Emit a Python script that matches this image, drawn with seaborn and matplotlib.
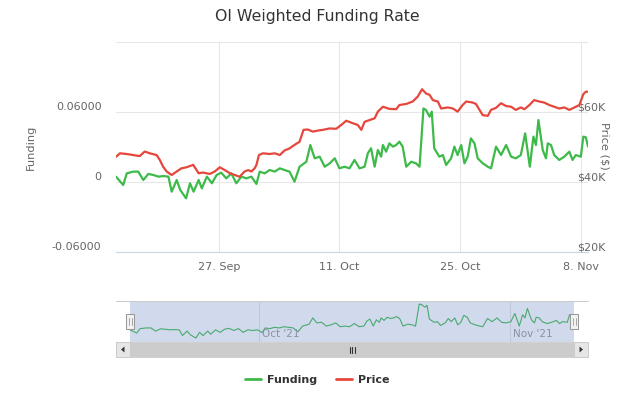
import pandas as pd
import matplotlib
matplotlib.use("Agg")
import matplotlib.pyplot as plt
import matplotlib.transforms as mtransforms
from matplotlib.lines import Line2D
from matplotlib.patches import Rectangle, Polygon
import seaborn as sns

# Series: hours since 15 Sep 2021 00:00 and values
start = pd.Timestamp("2021-09-15 00:00")

funding_hours = [2, 22, 32, 50, 64, 78, 92, 106, 120, 134,
                 148, 157, 171, 181, 197, 208, 218, 232, 241, 255,
                 269, 282, 295, 309, 323, 337, 351, 365, 379, 393,
                 402, 416, 430, 444, 458, 471, 485, 499, 513, 532,
                 543, 555, 569, 583, 597, 611, 624, 638, 652, 666,
                 680, 694, 703, 712, 722, 731, 740, 745, 754, 763,
                 773, 782, 791, 800, 810, 824, 837, 847, 858, 865,
                 875, 881, 888, 902, 912, 921, 935, 944, 953, 963,
                 972, 981, 990, 1000, 1009, 1023, 1037, 1046, 1060, 1074,
                 1088, 1102, 1115, 1129, 1141, 1154, 1164, 1171, 1178, 1190,
                 1199, 1204, 1213, 1222, 1236, 1250, 1264, 1273, 1282, 1296,
                 1303, 1310, 1316]
funding_rate = [0.0046, -0.0026, 0.0074, 0.0089, 0.0089, 0.0017, 0.0069, 0.0060, 0.0046, 0.0051,
                0.0046, -0.0083, 0.0017, -0.0069, -0.0140, -0.0011, -0.0083, 0.0017, -0.0054, 0.0046,
                -0.0011, 0.0060, 0.0080, 0.0031, 0.0074, -0.0011, 0.0046, 0.0031, 0.0046, -0.0017,
                0.0089, 0.0074, 0.0103, 0.0089, 0.0117, 0.0103, 0.0089, 0.0003, 0.0131, 0.0174,
                0.0317, 0.0203, 0.0217, 0.0131, 0.0160, 0.0203, 0.0117, 0.0131, 0.0117, 0.0189,
                0.0117, 0.0131, 0.0246, 0.0289, 0.0131, 0.0274, 0.0217, 0.0317, 0.0260, 0.0331,
                0.0303, 0.0317, 0.0346, 0.0303, 0.0131, 0.0174, 0.0160, 0.0131, 0.0631, 0.0617,
                0.0560, 0.0603, 0.0289, 0.0217, 0.0231, 0.0146, 0.0203, 0.0303, 0.0231, 0.0317,
                0.0160, 0.0217, 0.0374, 0.0331, 0.0203, 0.0160, 0.0131, 0.0117, 0.0303, 0.0231,
                0.0317, 0.0217, 0.0203, 0.0231, 0.0417, 0.0131, 0.0389, 0.0317, 0.0531, 0.0274,
                0.0203, 0.0331, 0.0317, 0.0231, 0.0189, 0.0217, 0.0260, 0.0189, 0.0231, 0.0217,
                0.0389, 0.0383, 0.0303]

price_hours = [2, 13, 32, 50, 68, 82, 96, 115, 124, 133,
               143, 157, 171, 184, 198, 217, 232, 244, 263, 277,
               291, 305, 319, 333, 346, 360, 370, 379, 388, 393,
               400, 411, 430, 444, 458, 471, 485, 499, 513, 524,
               536, 550, 564, 578, 597, 615, 629, 643, 661, 675,
               685, 694, 708, 722, 731, 745, 763, 782, 791, 810,
               828, 842, 854, 865, 875, 884, 898, 907, 926, 940,
               953, 967, 977, 995, 1004, 1014, 1023, 1037, 1046, 1060,
               1074, 1088, 1102, 1115, 1129, 1139, 1153, 1166, 1180, 1194,
               1208, 1222, 1236, 1250, 1264, 1278, 1292, 1303, 1310, 1316]
price_usd = [47200, 48200, 48000, 47700, 47400, 48700, 48200, 47700, 46300, 44400,
             43000, 42000, 43000, 43900, 44200, 44900, 42500, 42700, 42300, 43000,
             44200, 43400, 42500, 42000, 41500, 43000, 43400, 43000, 43900, 44900,
             47700, 48200, 48000, 48200, 47700, 49000, 49600, 50600, 51500, 54900,
             55000, 54400, 54700, 54900, 55300, 55200, 56300, 57500, 56800, 56300,
             54900, 57200, 57700, 58200, 60100, 61500, 60900, 60800, 62000, 62300,
             63000, 64400, 66500, 65300, 64900, 63400, 63000, 61000, 61300, 61000,
             60100, 62000, 63000, 62700, 62300, 60600, 59100, 58900, 60600, 61200,
             62500, 61700, 61500, 60600, 61300, 60800, 62000, 63400, 63000, 62700,
             62000, 61500, 61000, 61300, 60600, 61300, 62000, 65100, 65800, 65800]

tick_dates = ["2021-09-27", "2021-10-11", "2021-10-25", "2021-11-08"]
tick_labels = ["27. Sep", "11. Oct", "25. Oct", "8. Nov"]
funding_ticks = [-0.06, 0, 0.06, 0.12]
funding_tick_labels = ["-0.06000", "0", "0.06000", ""]
price_ticks = [20000, 40000, 60000, 80000]
price_tick_labels = ["$20K", "$40K", "$60K", ""]
nav_dates = ["2021-10-01", "2021-11-01"]
nav_labels = ["Oct '21", "Nov '21"]

funding_df = pd.DataFrame({"time": start + pd.to_timedelta(funding_hours, unit="h"),
                           "Funding": funding_rate})
price_df = pd.DataFrame({"time": start + pd.to_timedelta(price_hours, unit="h"),
                         "Price": price_usd})

GREEN = "#3dba4a"
RED = "#e5473c"
GRID = "#e6e6e6"
LABEL = "#666666"

sns.set_style("white")
plt.rcParams["font.family"] = ["DejaVu Sans"]

W, H = 628, 394
fig = plt.figure(figsize=(W / 100, H / 100), dpi=100)


def box(l, t, r, b):
    # pixel box -> figure fraction rect
    return [l / W, 1 - b / H, (r - l) / W, (b - t) / H]


# main chart
ax = fig.add_axes(box(116, 42, 588, 252))
ax2 = ax.twinx()
sns.lineplot(data=funding_df, x="time", y="Funding", ax=ax, color=GREEN, lw=1.6, legend=False)
sns.lineplot(data=price_df, x="time", y="Price", ax=ax2, color=RED, lw=1.6, legend=False)

t0, t1 = funding_df["time"].iloc[0], funding_df["time"].iloc[-1]
ax.set_xlim(t0, t1)
ax.set_ylim(-0.06, 0.12)
ax2.set_ylim(20000, 80000)
ax.set_xticks(pd.to_datetime(tick_dates), labels=tick_labels)
ax.set_yticks(funding_ticks, labels=funding_tick_labels)
ax2.set_yticks(price_ticks, labels=price_tick_labels)
for a in (ax, ax2):
    a.set_xlabel("")
    a.set_ylabel("")
    for s in a.spines.values():
        s.set_visible(False)
ax.spines["bottom"].set_visible(True)
ax.spines["bottom"].set_color("#ccd6eb")
ax.spines["bottom"].set_linewidth(0.8)
ax.grid(True, color=GRID, lw=0.75)
ax2.grid(False)

ax.tick_params(axis="y", length=0, pad=10.5, labelcolor=LABEL, labelsize=8)
ax.tick_params(axis="x", length=6, width=0.75, color="#ccd6eb", pad=1.5, labelcolor=LABEL, labelsize=8)
ax2.tick_params(axis="y", length=0, pad=-8, labelcolor=LABEL, labelsize=8)

shift = mtransforms.ScaledTranslation(0, 6 / 100, fig.dpi_scale_trans)
for lbl in ax.get_yticklabels() + ax2.get_yticklabels():
    lbl.set_transform(lbl.get_transform() + shift)

fig.text(317 / W, 1 - 17 / H, "OI Weighted Funding Rate", ha="center", va="center",
         fontsize=11.3, color="#333333")
fig.text(31 / W, 1 - 147 / H, "Funding", rotation=90, ha="center", va="center",
         fontsize=8.2, color=LABEL)
fig.text(604 / W, 1 - 146 / H, "Price ($)", rotation=270, ha="center", va="center",
         fontsize=8.2, color=LABEL)

# navigator
nav = fig.add_axes(box(116, 301, 588, 342))
pad = pd.Timedelta(hours=41.4)
sns.lineplot(data=funding_df, x="time", y="Funding", ax=nav, color=GREEN, lw=0.8, legend=False)
nav.set_xlim(t0 - pad, t1 + pad)
nav.set_ylim(-0.023, 0.070)
nav.axvspan(t0, t1, color=(102 / 255, 133 / 255, 194 / 255, 0.3), lw=0, zorder=4)
nav_trans = mtransforms.blended_transform_factory(nav.transData, nav.transAxes)
for d, lab in zip(nav_dates, nav_labels):
    nav.axvline(pd.Timestamp(d), color=GRID, lw=0.75, zorder=1)
    nav.text(pd.Timestamp(d), 0.2, lab, transform=nav_trans + mtransforms.ScaledTranslation(3 / 100, 0, fig.dpi_scale_trans),
             ha="left", va="center", fontsize=7.5, color="#999999", zorder=2)
nav.axis("off")

# scrollbar, handles and outline in pixel space
ui = fig.add_axes([0, 0, 1, 1])
ui.set_xlim(0, W)
ui.set_ylim(H, 0)
ui.axis("off")
ui.plot([116, 588], [301, 301], color="#cccccc", lw=0.75)
ui.add_patch(Rectangle((116, 342), 472, 15, fc="#f2f2f2", ec="#f2f2f2", lw=0.5))
ui.add_patch(Rectangle((130, 342), 444, 15, fc="#cccccc", ec="#cccccc", lw=0.5))
for bx in (116, 574):
    ui.add_patch(Rectangle((bx, 342), 14, 15, fc="#e6e6e6", ec="#cccccc", lw=0.75))
ui.add_patch(Polygon([(121, 349.5), (124.5, 346.5), (124.5, 352.5)], fc="#333333", ec="none"))
ui.add_patch(Polygon([(583, 349.5), (579.5, 346.5), (579.5, 352.5)], fc="#333333", ec="none"))
for gx in (349.5, 352, 354.5):
    ui.plot([gx, gx], [346.5, 352.5], color="#333333", lw=0.8)
for cx in (130, 574):
    ui.add_patch(Rectangle((cx - 4, 314), 8, 15, fc="#f2f2f2", ec="#999999", lw=0.75, zorder=5))
    for gx in (cx - 1.5, cx + 1.5):
        ui.plot([gx, gx], [318, 325], color="#999999", lw=0.6, zorder=6)

# legend
handles = [Line2D([], [], color=GREEN, lw=2), Line2D([], [], color=RED, lw=2)]
fig.legend(handles, ["Funding", "Price"], loc="center", bbox_to_anchor=(317 / W, 1 - 380 / H),
           ncol=2, frameon=False, prop={"weight": "bold", "size": 8}, labelcolor="#333333",
           handlelength=1.45, handletextpad=0.55, columnspacing=1.7)

fig.savefig("out.png", dpi=100)
